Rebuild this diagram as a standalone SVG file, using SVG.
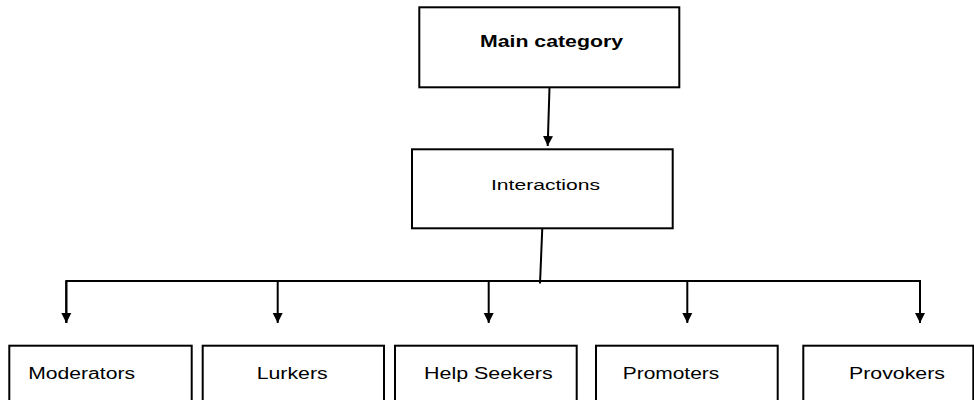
<svg xmlns="http://www.w3.org/2000/svg" width="974" height="400" viewBox="0 0 974 400">
<style>
.box{fill:#fff;stroke:#000;stroke-width:2}
.t{font-family:"Liberation Sans",Arial,sans-serif;font-size:16px;fill:#000}
.b{font-weight:bold;font-size:17px}
.c{fill:none;stroke:#000;stroke-width:2}
</style>
<defs>
<marker id="ah" markerUnits="userSpaceOnUse" markerWidth="12" markerHeight="12" viewBox="0 0 12 12" refX="10" refY="6" orient="auto">
<path d="M0,1 L10,6 L0,11 Z" fill="#000"/>
</marker>
</defs>
<rect width="974" height="400" fill="#fff"/>
<g id="connectors">
<line class="c" x1="549.5" y1="87" x2="547.7" y2="146" marker-end="url(#ah)"/>
<line class="c" x1="542.3" y1="228" x2="540" y2="283.5"/>
<polyline class="c" points="66.3,323 66.3,281 920,281 920,323" marker-end="url(#ah)"/>
<path class="c" d="M66.3,281 V323" marker-end="url(#ah)"/>
<path class="c" d="M277.7,281 V323" marker-end="url(#ah)"/>
<path class="c" d="M488.7,281 V323" marker-end="url(#ah)"/>
<path class="c" d="M687.3,281 V323" marker-end="url(#ah)"/>
</g>
<g id="main">
<rect class="box" x="419.3" y="7.3" width="260" height="80"/>
<text class="t b" x="480" y="47" textLength="143" lengthAdjust="spacingAndGlyphs">Main category</text>
</g>
<g id="interactions">
<rect class="box" x="412" y="149.3" width="260.7" height="79"/>
<text class="t" x="491" y="190" textLength="109" lengthAdjust="spacingAndGlyphs" style="font-size:15.5px">Interactions</text>
</g>
<g id="moderators">
<rect class="box" x="9.3" y="345.7" width="182.4" height="60"/>
<text class="t" x="28.3" y="378.5" textLength="106.7" lengthAdjust="spacingAndGlyphs">Moderators</text>
</g>
<g id="lurkers">
<rect class="box" x="202.7" y="345.7" width="181.3" height="60"/>
<text class="t" x="256.7" y="379" textLength="71" lengthAdjust="spacingAndGlyphs">Lurkers</text>
</g>
<g id="helpseekers">
<rect class="box" x="395" y="345.7" width="181.7" height="60"/>
<text class="t" x="424" y="378.5" textLength="128.7" lengthAdjust="spacingAndGlyphs">Help Seekers</text>
</g>
<g id="promoters">
<rect class="box" x="596" y="345.7" width="181.7" height="60"/>
<text class="t" x="622.7" y="379" textLength="96.6" lengthAdjust="spacingAndGlyphs">Promoters</text>
</g>
<g id="provokers">
<rect class="box" x="803.3" y="345.7" width="170" height="60"/>
<text class="t" x="849" y="379" textLength="96" lengthAdjust="spacingAndGlyphs">Provokers</text>
</g>
</svg>
